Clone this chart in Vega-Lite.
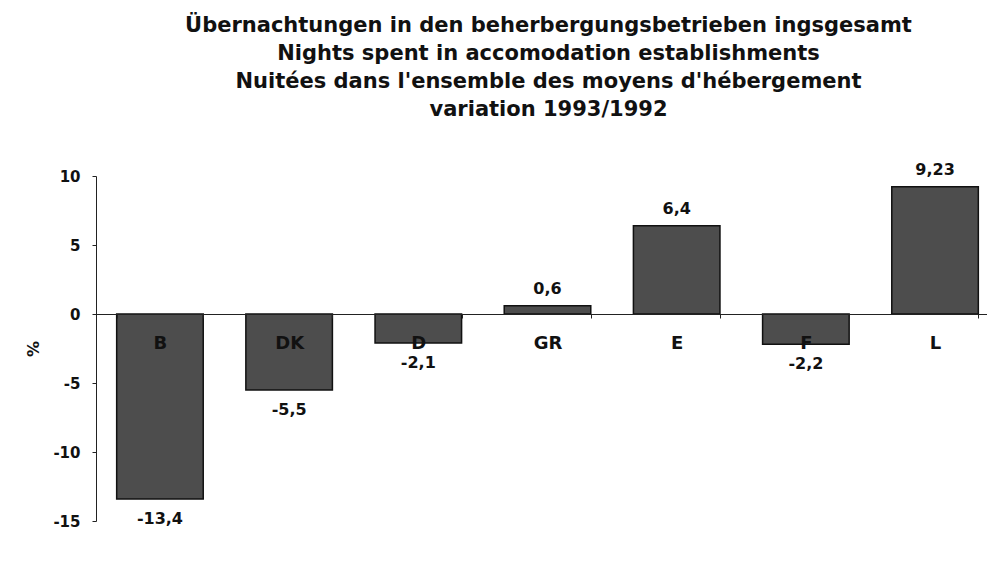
{
  "$schema": "https://vega.github.io/schema/vega-lite/v6.json",
  "autosize": {"type": "none"},
  "padding": {"left": 96, "top": 176, "right": 2, "bottom": 53},
  "width": 889,
  "height": 345,
  "background": "white",
  "title": {
    "text": ["Übernachtungen in den beherbergungsbetrieben ingsgesamt", "Nights spent in accomodation establishments", "Nuitées dans l'ensemble des moyens d'hébergement", "variation 1993/1992"],
    "font": "DejaVu Sans",
    "fontSize": 21,
    "fontWeight": "bold",
    "color": "#111",
    "lineHeight": 28,
    "anchor": "middle",
    "dx": 8,
    "offset": 42
  },
  "config": {
    "view": {"stroke": null},
    "axis": {"labelFont": "DejaVu Sans", "titleFont": "DejaVu Sans"}
  },
  "data": {
    "values": [
      {"country": "B", "value": -13.4, "label": "-13,4"},
      {"country": "DK", "value": -5.5, "label": "-5,5"},
      {"country": "D", "value": -2.1, "label": "-2,1"},
      {"country": "GR", "value": 0.6, "label": "0,6"},
      {"country": "E", "value": 6.4, "label": "6,4"},
      {"country": "F", "value": -2.2, "label": "-2,2"},
      {"country": "L", "value": 9.23, "label": "9,23"}
    ]
  },
  "encoding": {
    "x": {
      "field": "country",
      "type": "nominal",
      "sort": null,
      "scale": {"range": [0, 903], "paddingInner": 0.33, "paddingOuter": 0.16},
      "axis": {
        "title": null,
        "offset": -207,
        "labelAngle": 0,
        "labelFontSize": 18,
        "labelFontWeight": "bold",
        "labelColor": "#111",
        "labelPadding": 16,
        "tickBand": "extent",
        "tickSize": 4,
        "tickColor": "#222",
        "domainColor": "#222",
        "zindex": 1
      }
    },
    "y": {
      "field": "value",
      "type": "quantitative",
      "scale": {"domain": [-15, 10], "nice": false},
      "axis": {
        "title": "%",
        "titleFontSize": 16,
        "titleFontWeight": "bold",
        "titleColor": "#111",
        "titlePadding": 11,
        "values": [-15, -10, -5, 0, 5, 10],
        "labelExpr": "'' + datum.value",
        "grid": false,
        "labelFontSize": 15,
        "labelFontWeight": "bold",
        "labelColor": "#111",
        "labelPadding": 12,
        "tickSize": 4,
        "tickColor": "#222",
        "domainColor": "#222"
      }
    }
  },
  "layer": [
    {
      "mark": {"type": "bar", "fill": "#4d4d4d", "stroke": "#111", "strokeWidth": 1.5}
    },
    {
      "transform": [{"filter": "datum.value >= 0"}],
      "mark": {"type": "text", "font": "DejaVu Sans", "fontSize": 16, "fontWeight": "bold", "color": "#111", "baseline": "bottom", "dy": -9},
      "encoding": {"text": {"field": "label"}}
    },
    {
      "transform": [{"filter": "datum.value < 0"}],
      "mark": {"type": "text", "font": "DejaVu Sans", "fontSize": 16, "fontWeight": "bold", "color": "#111", "baseline": "top", "dy": 12},
      "encoding": {"text": {"field": "label"}}
    }
  ]
}
